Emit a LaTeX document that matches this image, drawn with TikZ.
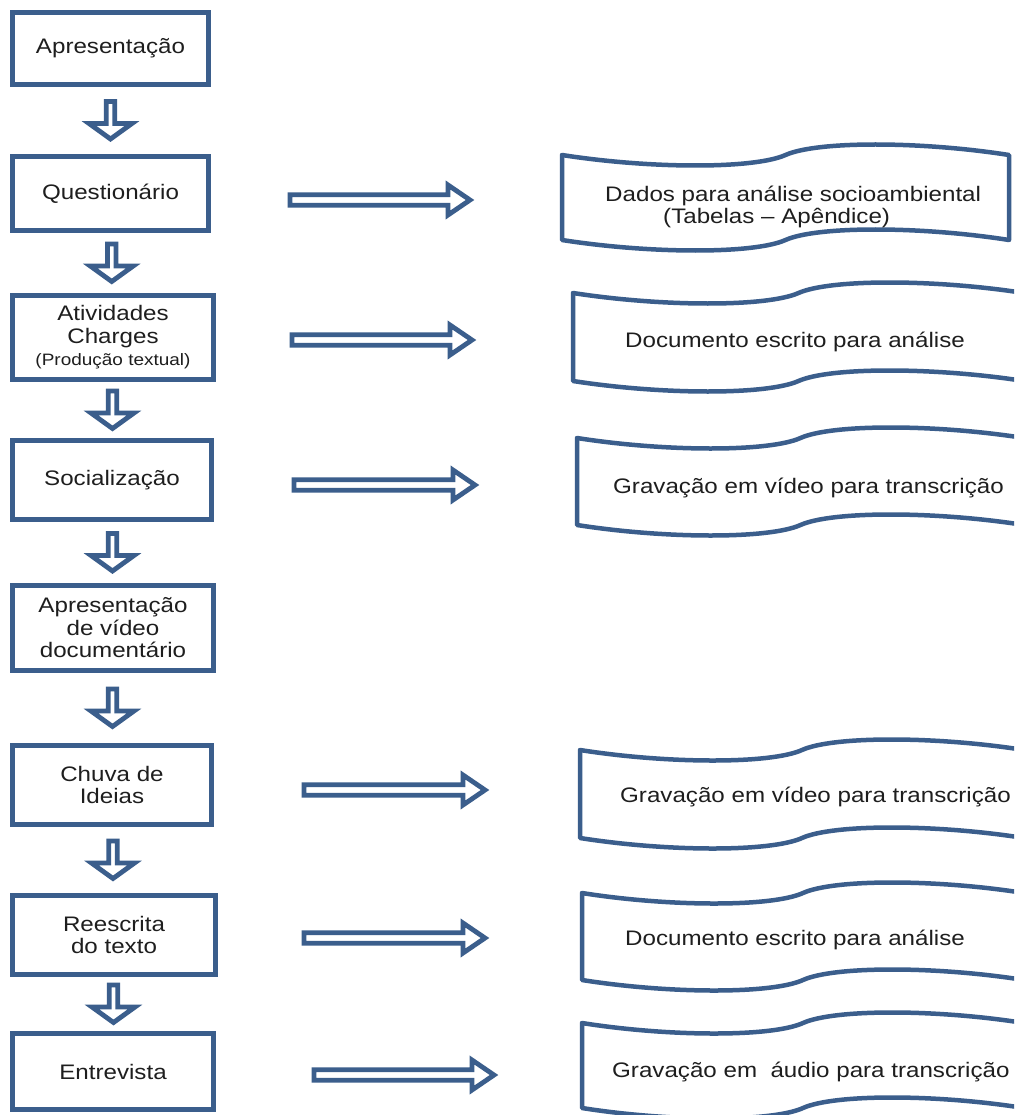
\documentclass[tikz,border=0pt]{standalone}
\usepackage{fontspec}
\setmainfont{Liberation Sans}[FakeStretch=1.15]
\usetikzlibrary{calc}

\definecolor{edgeblue}{RGB}{59,94,140}
\definecolor{inkgray}{RGB}{30,30,30}

\newcommand\notesize{\fontsize{16.5}{18}\selectfont}

\tikzset{
  stagebox/.style={draw=edgeblue, line width=5pt, text=inkgray, align=center,
    inner sep=0pt, font=\fontsize{21}{22.5}\selectfont},
  tapeedge/.style={draw=edgeblue, line width=4.5pt, line join=round},
  hollowarrow/.style={draw=edgeblue, line width=4.8pt, fill=white},
  tapetext/.style={text=inkgray, anchor=west, align=left, inner sep=0pt,
    font=\fontsize{21}{22.5}\selectfont},
}

% hollow block arrow pointing down, centred in the gap between two boxes
\newcommand\flowdown[2]{%
  \coordinate (mid-#1) at ($(#1.south)!0.5!(#2.north)$);
  \draw[hollowarrow]
    ($(mid-#1)+(-4.3,-19)$) -- ($(mid-#1)+(4.3,-19)$) -- ($(mid-#1)+(4.3,3)$)
    -- ($(mid-#1)+(21.5,3)$) -- ($(mid-#1)+(0,18.5)$) -- ($(mid-#1)+(-21.5,3)$)
    -- ($(mid-#1)+(-4.3,3)$) -- cycle;}

% hollow block arrow pointing right, from a start point to its tip
\newcommand\flowright[2]{%
  \draw[hollowarrow]
    ($(#1)+(0,-5.2)$) -- ($(#2)+(-22,-5.2)$) -- ($(#2)+(-22,-15)$) -- (#2)
    -- ($(#2)+(-22,15)$) -- ($(#2)+(-22,5.2)$) -- ($(#1)+(0,5.2)$) -- cycle;}

% punched-tape document shape: left, right, top, bottom, wave amplitude
\newcommand\tapeshape[5]{%
  \pgfmathsetmacro\tpW{#2-#1}%
  \pgfmathsetmacro\tpM{(#1+#2)/2}%
  \draw[tapeedge] (#1,#3)
    .. controls ({#1+0.2*\tpW},{#3+1.4*#5}) and ({\tpM-0.07*\tpW},{#3+1.4*#5}) .. (\tpM,#3)
    .. controls ({\tpM+0.07*\tpW},{#3-1.4*#5}) and ({#2-0.2*\tpW},{#3-1.4*#5}) .. (#2,#3)
    -- (#2,#4)
    .. controls ({#2-0.2*\tpW},{#4-1.4*#5}) and ({\tpM+0.07*\tpW},{#4-1.4*#5}) .. (\tpM,#4)
    .. controls ({\tpM-0.07*\tpW},{#4+1.4*#5}) and ({#1+0.2*\tpW},{#4+1.4*#5}) .. (#1,#4)
    -- cycle;}

\begin{document}
\begin{tikzpicture}[x=1pt, y=-1pt]
\useasboundingbox[fill=white] (0,0) rectangle (1014,1115);
\clip (0,0) rectangle (1014,1115);

% stages of the activity sequence
\node[stagebox, minimum width=196pt, minimum height=72pt] (apres) at (110.5,48.5) {Apresentação};
\node[stagebox, minimum width=196pt, minimum height=74pt] (quest) at (110.5,193.5) {Questionário};
\node[stagebox, minimum width=201pt, minimum height=84pt] (ativ) at (113,337.5)
  {Atividades\\Charges\\{\notesize (Produção textual)}};
\node[stagebox, minimum width=199pt, minimum height=79pt] (social) at (112,480) {Socialização};
\node[stagebox, minimum width=201pt, minimum height=85pt] (video) at (113,628)
  {Apresentação\\de vídeo\\documentário};
\node[stagebox, minimum width=199pt, minimum height=79pt] (chuva) at (112,785) {Chuva de\\Ideias};
\node[stagebox, minimum width=203pt, minimum height=79pt] (reesc) at (114,935) {Reescrita\\do texto};
\node[stagebox, minimum width=201pt, minimum height=76pt] (entrev) at (113,1071.5) {Entrevista};

% downward flow between stages
\flowdown{apres}{quest}
\flowdown{quest}{ativ}
\flowdown{ativ}{social}
\flowdown{social}{video}
\flowdown{video}{chuva}
\flowdown{chuva}{reesc}
\flowdown{reesc}{entrev}

% resulting records
\tapeshape{562}{1009}{155}{240}{10}
\node[tapetext] (dados) at (605,207)
  {Dados para análise socioambiental\\\hspace*{58pt}(Tabelas – Apêndice)};
\tapeshape{573}{1024}{293}{381}{10}
\node[tapetext] (docA) at (625,342) {Documento escrito para análise};
\tapeshape{577}{1024}{438}{525}{10}
\node[tapetext] (gravA) at (613,488) {Gravação em vídeo para transcrição};
\tapeshape{580}{1024}{750}{838}{10}
\node[tapetext] (gravB) at (620,797) {Gravação em vídeo para transcrição};
\tapeshape{582}{1024}{893}{980}{10}
\node[tapetext] (docB) at (625,940) {Documento escrito para análise};
\tapeshape{582}{1024}{1023}{1108}{10}
\node[tapetext] (gravC) at (612,1072) {Gravação em\ \ áudio para transcrição};

% arrows from stages to records
\coordinate (q-out) at (290,200);   \coordinate (q-in) at (470,200);
\coordinate (a-out) at (292,340);   \coordinate (a-in) at (472,340);
\coordinate (s-out) at (294,485);   \coordinate (s-in) at (475,485);
\coordinate (c-out) at (304,790);   \coordinate (c-in) at (485,790);
\coordinate (r-out) at (304,938);   \coordinate (r-in) at (485,938);
\coordinate (e-out) at (314,1075);  \coordinate (e-in) at (494,1075);
\flowright{q-out}{q-in}
\flowright{a-out}{a-in}
\flowright{s-out}{s-in}
\flowright{c-out}{c-in}
\flowright{r-out}{r-in}
\flowright{e-out}{e-in}
\end{tikzpicture}
\end{document}
